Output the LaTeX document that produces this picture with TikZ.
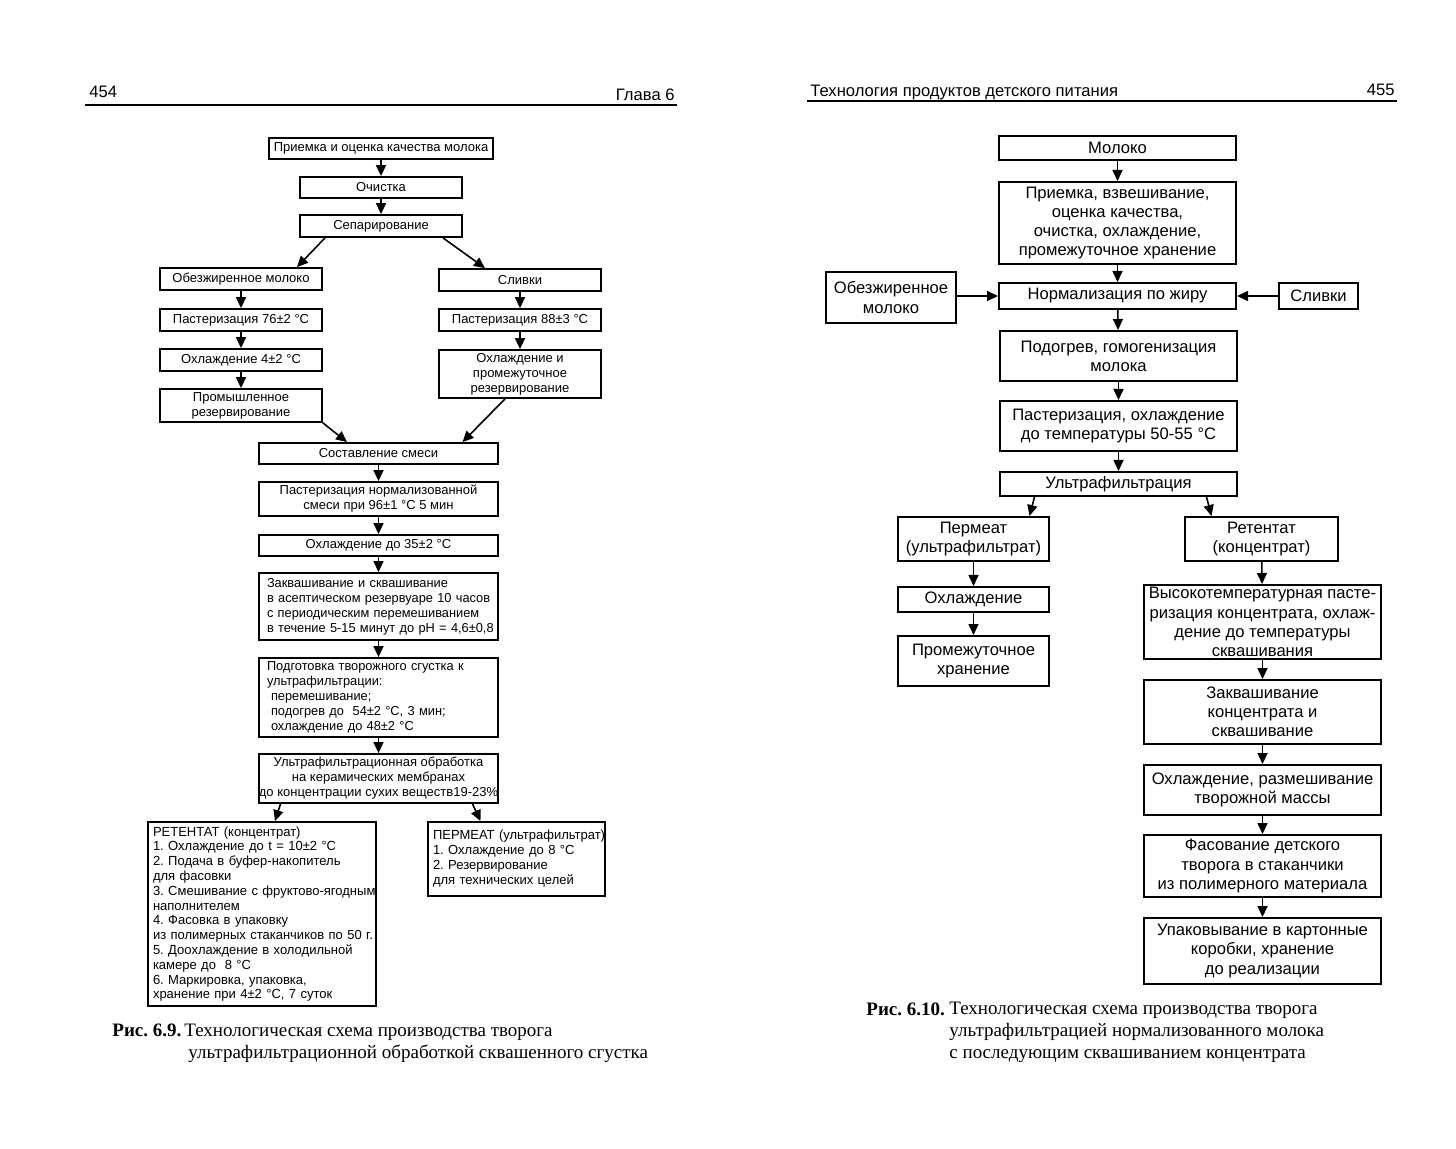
\documentclass[tikz,border=0pt]{standalone}
\usepackage{fontspec}
\setmainfont{Liberation Sans}
\newfontfamily\capfont{Liberation Serif}
\newfontfamily\narrowfont[FakeStretch=0.985]{Liberation Sans}
\usetikzlibrary{arrows.meta,positioning}
\newcommand\lfont{\fontsize{6.5}{7.5}\selectfont}
\newcommand\nfont{\narrowfont\fontsize{6.5}{7.5}\selectfont}
\newcommand\rfont{\fontsize{8.3}{9.6}\selectfont}
\frenchspacing

\begin{document}
\begin{tikzpicture}[
    x=0.5pt, y=-0.5pt,
    sz/.style 2 args={minimum width=#1*0.5pt, minimum height=#2*0.5pt},
    lbox/.style={draw, line width=0.9pt, font=\lfont, align=center, inner sep=0pt},
    lflush/.style={lbox, font=\nfont, align=left, inner xsep=4pt},
    rbox/.style={draw, line width=1pt, font=\rfont, align=center, inner sep=0pt},
    hdr/.style={font=\fontsize{8.3}{9}\selectfont, inner sep=0pt},
    figcap/.style={font=\capfont\fontsize{9.5}{11}\selectfont, inner sep=0pt},
    rule/.style={line width=0.7pt},
    arr/.style={-{Triangle[length=5.5pt,width=5pt]}, line width=0.8pt}
]
    \useasboundingbox (0,0) rectangle (1456,1149);

    % page heads
    \node[hdr, anchor=base west] (pg1) at (89,98) {454};
    \node[hdr, anchor=base east] (chap) at (675,101) {Глава 6};
    \node[hdr, anchor=base west] (run) at (810,97) {Технология продуктов детского питания};
    \node[hdr, anchor=base east] (pg2) at (1395,96) {455};
    \draw[rule] (85,105) -- (677,105);
    \draw[rule] (807,101) -- (1397,101);

    % fig 6.9
    \node[lbox, sz={224}{21}] (priem) at (381,148.5) {Приемка и оценка качества молока};
    \node[lbox, sz={162}{21}] (ochist) at (381,187.5) {Очистка};
    \node[lbox, sz={162}{22}] (separ) at (381,226) {Сепарирование};
    \node[lbox, sz={162}{22}] (obezh) at (241,279) {Обезжиренное молоко};
    \node[lbox, sz={162}{22}] (slivki) at (520,280) {Сливки};
    \node[lbox, sz={162}{22}] (past1) at (241,320) {Пастеризация 76±2 °C};
    \node[lbox, sz={162}{22}] (past2) at (520,320) {Пастеризация 88±3 °C};
    \node[lbox, sz={162}{22}] (ohl1) at (241,360) {Охлаждение 4±2 °C};
    \node[lbox, sz={162}{48}] (ohl2) at (520,374) {Охлаждение и\\промежуточное\\резервирование};
    \node[lbox, sz={162}{33}] (promres) at (241,405.5) {Промышленное\\резервирование};
    \node[lbox, sz={239}{21}] (sostav) at (378.5,453.5) {Составление смеси};
    \node[lbox, sz={239}{34}] (pastsm) at (378.5,499) {Пастеризация нормализованной\\смеси при 96±1 °C 5 мин};
    \node[lbox, sz={239}{21}] (ohlsm) at (378.5,545.5) {Охлаждение до 35±2 °C};
    \node[lflush, sz={239}{67}, text width=111.5pt] (zakv) at (378.5,606.5)
        {Заквашивание и сквашивание\\\mbox{в асептическом резервуаре 10 часов}\\\mbox{с периодическим перемешиванием}\\\mbox{в течение 5-15 минут до pH = 4,6±0,8}};
    \node[lflush, sz={239}{79}, text width=111.5pt] (podgot) at (378.5,697.5)
        {Подготовка творожного сгустка к\\ультрафильтрации:\\\hspace*{2pt}перемешивание;\\\hspace*{2pt}подогрев до\ \ 54±2 °C, 3 мин;\\\hspace*{2pt}охлаждение до 48±2 °C};
    \node[lbox, sz={239}{49}] (ultraf) at (378.5,778.5)
        {Ультрафильтрационная обработка\\на керамических мембранах\\до концентрации сухих веществ19-23\%};
    \node[lflush, font=\narrowfont\fontsize{6.6}{7.4}\selectfont, inner xsep=2.5pt, text width=109pt, sz={228}{184}] (retent) at (262,914)
        {РЕТЕНТАТ (концентрат)\\1. Охлаждение до t = 10±2 °C\\2. Подача в буфер-накопитель\\для фасовки\\\mbox{3. Смешивание с фруктово-ягодным}\\наполнителем\\4. Фасовка в упаковку\\\mbox{из полимерных стаканчиков по 50 г.}\\5. Доохлаждение в холодильной\\камере до\ \ 8 °C\\6. Маркировка, упаковка,\\хранение при 4±2 °C, 7 суток};
    \node[lflush, font=\narrowfont\fontsize{6.6}{7.5}\selectfont, inner xsep=2.5pt, text width=83.5pt, sz={177}{74}] (permeat) at (516.5,859)
        {\mbox{ПЕРМЕАТ (ультрафильтрат)}\\1. Охлаждение до 8 °C\\2. Резервирование\\для технических целей};

    \draw[arr] (priem) -- (ochist);
    \draw[arr] (ochist) -- (separ);
    \draw[arr] ([xshift=-28pt]separ.south) -- ([xshift=28pt]obezh.north);
    \draw[arr] ([xshift=31pt]separ.south) -- ([xshift=-17.5pt]slivki.north);
    \draw[arr] (obezh) -- (past1);
    \draw[arr] (past1) -- (ohl1);
    \draw[arr] (ohl1) -- (promres);
    \draw[arr] (slivki) -- (past2);
    \draw[arr] (past2) -- (ohl2);
    \draw[arr] (promres.south east) -- ([xshift=-15.75pt]sostav.north);
    \draw[arr] ([xshift=-7.5pt]ohl2.south) -- ([xshift=42pt]sostav.north);
    \draw[arr] (sostav) -- (pastsm);
    \draw[arr] (pastsm) -- (ohlsm);
    \draw[arr] (ohlsm) -- (zakv);
    \draw[arr] (zakv) -- (podgot);
    \draw[arr] (podgot) -- (ultraf);
    \draw[arr] ([xshift=-49pt]ultraf.south) -- ([xshift=6.5pt]retent.north);
    \draw[arr] ([xshift=47pt]ultraf.south) -- ([xshift=-18pt]permeat.north);

    \node[figcap, anchor=north west] (fig9) at (112,1024) {\bfseries Рис. 6.9.};
    \node[figcap, anchor=north west, align=left] (fig9t) at (184,1024)
        {Технологическая схема производства творога\\\hspace*{2pt}ультрафильтрационной обработкой сквашенного сгустка};

    % fig 6.10
    \node[rbox, sz={237}{24}] (moloko) at (1117.5,148) {Молоко};
    \node[rbox, sz={237}{82}] (priem2) at (1117.5,223) {Приемка, взвешивание,\\оценка качества,\\очистка, охлаждение,\\промежуточное хранение};
    \node[rbox, sz={130}{51}] (obezh2) at (891,297.5) {Обезжиренное\\молоко};
    \node[rbox, sz={237}{26}] (norm) at (1117.5,296) {Нормализация по жиру};
    \node[rbox, sz={79}{26}] (slivki2) at (1318.5,296) {Сливки};
    \node[rbox, sz={237}{50}] (podogrev) at (1118.5,356) {Подогрев, гомогенизация\\молока};
    \node[rbox, sz={237}{50}] (pastohl) at (1118.5,426) {Пастеризация, охлаждение\\до температуры 50-55 °C};
    \node[rbox, sz={237}{24}] (ultraf2) at (1118.5,484) {Ультрафильтрация};
    \node[rbox, sz={151}{44}] (perm2) at (973.5,539) {Пермеат\\(ультрафильтрат)};
    \node[rbox, sz={153}{44}] (ret2) at (1261.5,539) {Ретентат\\(концентрат)};
    \node[rbox, sz={151}{25}] (ohl3) at (973.5,599.5) {Охлаждение};
    \node[rbox, sz={151}{50}] (hran) at (973.5,661) {Промежуточное\\хранение};
    \node[rbox, sz={237}{74}] (vysok) at (1262.5,622) {Высокотемпературная пасте-\\ризация концентрата, охлаж-\\дение до температуры\\сквашивания};
    \node[rbox, sz={237}{64}] (zakv2) at (1262.5,712) {Заквашивание\\концентрата и\\сквашивание};
    \node[rbox, sz={237}{50}] (ohlmass) at (1262.5,790) {Охлаждение, размешивание\\творожной массы};
    \node[rbox, sz={237}{62}] (fasov) at (1262.5,866) {Фасование детского\\творога в стаканчики\\из полимерного материала};
    \node[rbox, sz={237}{66}] (upak) at (1262.5,951) {Упаковывание в картонные\\коробки, хранение\\до реализации};

    \draw[arr] (moloko) -- (priem2);
    \draw[arr] (priem2) -- (norm);
    \draw[arr] (obezh2.east |- norm) -- (norm.west);
    \draw[arr] (slivki2) -- (norm);
    \draw[arr] (norm) -- (podogrev);
    \draw[arr] (podogrev) -- (pastohl);
    \draw[arr] (pastohl) -- (ultraf2);
    \draw[arr] ([xshift=-42pt]ultraf2.south) -- ([xshift=28pt]perm2.north);
    \draw[arr] ([xshift=44pt]ultraf2.south) -- ([xshift=-25pt]ret2.north);
    \draw[arr] (perm2) -- (ohl3);
    \draw[arr] (ohl3) -- (hran);
    \draw[arr] (ret2) -- (vysok);
    \draw[arr] (vysok) -- (zakv2);
    \draw[arr] (zakv2) -- (ohlmass);
    \draw[arr] (ohlmass) -- (fasov);
    \draw[arr] (fasov) -- (upak);

    \node[figcap, anchor=north west] (fig10) at (866,1002) {\bfseries Рис. 6.10.};
    \node[figcap, anchor=north west, align=left] (fig10t) at (949,1002)
        {Технологическая схема производства творога\\ультрафильтрацией нормализованного молока\\с последующим сквашиванием концентрата};
\end{tikzpicture}
\end{document}
